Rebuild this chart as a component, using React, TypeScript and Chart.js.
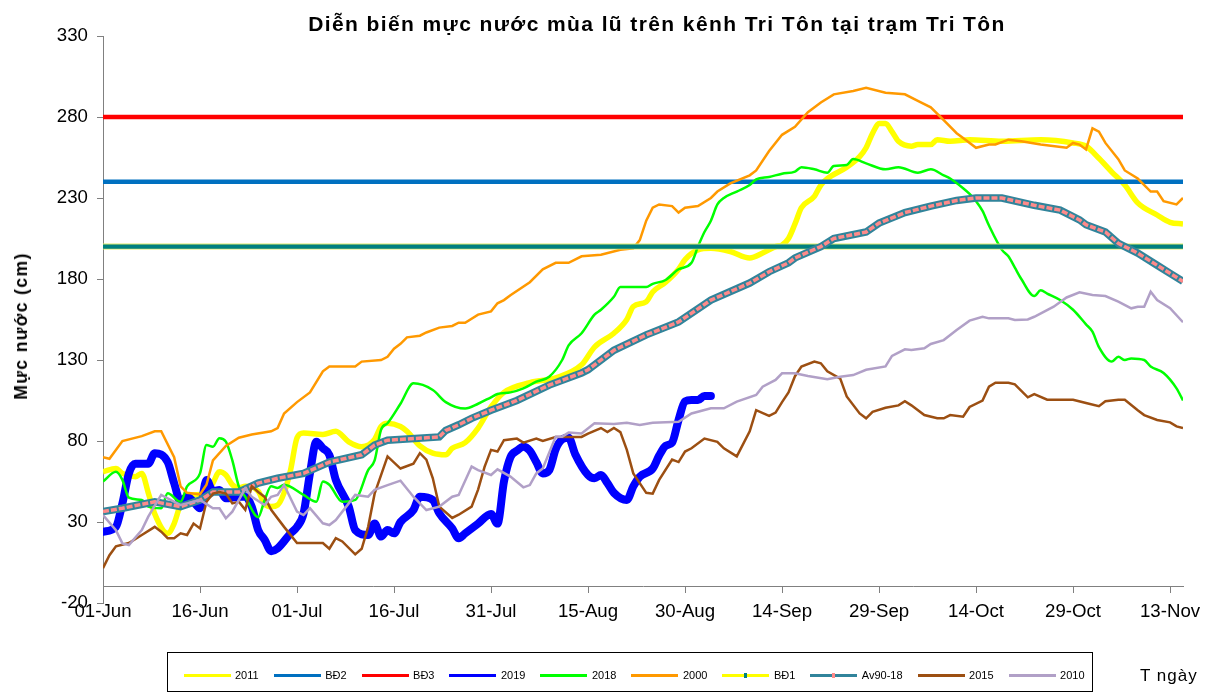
import React, { useEffect, useRef } from "react";
import { Chart, registerables } from "chart.js";

Chart.register(...registerables);

// ---------- data ----------
const xTickDays = [0, 15, 30, 45, 60, 75, 90, 105, 120, 135, 150, 165];
const xTickLabels = ["01-Jun", "16-Jun", "01-Jul", "16-Jul", "31-Jul", "15-Aug", "30-Aug", "14-Sep", "29-Sep", "14-Oct", "29-Oct", "13-Nov"];
const yTicks = [-20, 30, 80, 130, 180, 230, 280, 330];
const lastDay = 167; // 15-Nov
const xAxisCross = -10;

const levelBD1 = 200;
const levelBD2 = 240;
const levelBD3 = 280;

type Series = [number, number][]; // [day index from 01-Jun, water level cm]

const s2011: Series = [[0,61],[2,63],[3,60],[5,58],[6,60],[7,48],[8,35],[10,23],[11,29],[12,41],[13,46],[15,47],[16,48],[17,54],[18,61],[19,59],[20,53],[21,51],[22,52],[24,49],[25,41],[26,39.5],[27,40.5],[28,48],[29,62],[30,82],[31,85],[34,84],[36,86],[38,79.5],[40,76.5],[42,81],[43,89],[44,91],[46,89],[47,86],[49,77],[51,72.5],[53,71.5],[54,75.5],[56,79],[58,88],[60,101],[62,110],[66,116],[70,119],[74,127],[76,138],[79,146.5],[81,155],[82,163],[84,166],[85,172],[87,178],[89,186],[90,192],[92,198],[94,199],[97,197],[100,193],[102,196],[104,200],[105,201],[106,205],[107,214],[108,224],[110,231],[111,238],[112,242],[115,249],[117,255.5],[118,261],[119,270],[120,276],[121,276],[122,271],[123,265],[125,262],[126,263],[128,263],[129,266],[131,265],[134,266],[139,265],[145,266],[150,264],[152,262],[154,254.5],[156,246],[158,238],[160,227],[163,219.5],[165,215],[167,214]];

const s2019: Series = [[0,24],[2,27],[3,41.5],[4,60],[5,66],[7,66],[8,72.4],[10,67],[11,54],[12,42.5],[13,45.6],[14,42.5],[15,38.5],[16,56],[17,49],[18,49.8],[19,44.6],[21,45.6],[22,45.6],[23,39.5],[24,25],[25,19],[26,12],[27,13.7],[29,23],[30,27],[31,35],[32,60],[33,79.6],[34,75.5],[35,71.4],[36,56],[38,39.5],[39,25],[41,22],[42,29],[43,21],[44,25],[45,23],[46,30],[48,37.4],[49,45.6],[51,43.6],[52,35.4],[54,26],[55,20],[56,23],[58,29],[60,35],[61,29],[62,55],[63,70],[64,74],[65,76.5],[66,74],[67,67],[68,60],[69,62],[70,75],[71,81],[72,82],[73,72],[75,59],[76,57],[77,59],[78,54],[79,48],[81,43.6],[82,52],[83,58],[85,63],[86,71],[87,77],[88,79],[89,93],[90,104.5],[91,105.3],[92,105.3],[93,107.8],[94,107.8]];

const s2018: Series = [[0,55],[2,61],[3,56],[4,45],[6,43.6],[7,39.5],[9,38.5],[10,47.7],[12,42.5],[13,52],[15,60],[16,77.5],[17,76.5],[18,81.7],[19,79.6],[20,68],[21,52],[22,45.6],[24,33],[25,43.6],[26,52],[27,51],[28,53],[31,46.7],[33,42.5],[34,55],[35,53],[37,42.5],[39,43.6],[41,62],[42,68],[43,87],[44,91],[46,103],[48,115.6],[51,111.5],[53,104],[56,100],[58,103],[60,107],[61,109],[63,110],[65,112.5],[67,116.6],[69,119.7],[71,130],[72,139],[74,146.5],[76,158],[77,161],[79,169],[80,175],[84,175],[85,177],[87,179.4],[89,186],[91,190],[92,200],[93,209],[94,216],[95,226],[96,230],[98,234],[100,238],[101,241.5],[103,243],[105,245],[107,246.3],[108,249],[110,247.7],[112,245.6],[113,249.8],[115,250.4],[116,254],[118,251.4],[121,247.7],[123,249],[126,245.6],[128,247.7],[130,244],[131,242],[133,236],[134,232.5],[135,228],[136,222],[137,213],[139,198],[140,194],[141,187],[142,180],[144,169.5],[145,173],[146,171],[148,167],[150,161],[152,152],[153,147.5],[154,138],[156,129],[157,132],[158,130],[159,131],[161,130],[162,126],[164,122],[166,112.5],[167,105]];

const s2000: Series = [[0,70],[1,69],[3,80],[6,83],[8,86],[9,86],[11,70],[12,52],[13,48],[15,47],[16,53],[17,68],[19,77],[21,82],[23,84],[26,86],[27,88],[28,97],[30,104],[32,110],[34,123],[35,126],[39,126],[40,129],[43,130],[44,132],[45,137],[46,140],[47,144],[49,145],[50,147],[52,150],[54,151],[55,153],[56,153],[58,158],[60,160],[61,165],[62,167],[63,170],[66,178],[68,186],[70,190],[72,190],[74,194],[77,195],[80,198],[82,199],[83,204],[84,216],[85,224],[86,226],[88,225],[89,221],[90,224],[92,225],[94,230],[95,234],[97,239],[100,244],[101,247],[103,259],[105,269],[107,274],[109,283],[111,289],[113,294],[116,296],[118,298],[121,295],[124,294],[126,290],[128,286],[130,278],[132,270],[133,267],[135,261],[137,263],[138,263],[140,266],[142,265],[145,263],[149,261],[150,264],[151,263],[152,260],[153,273],[154,271],[155,264],[157,254],[158,247],[160,242],[162,234],[163,234],[164,228],[166,226],[167,230]];

const sAv9018: Series = [[0,36.5],[3,38.5],[8,42.5],[12,39.5],[15,43.5],[17,48.5],[21,48.5],[24,54],[27,57],[31,60],[35,67],[40,71.5],[42,77.5],[44,80.5],[52,82.5],[53,86.5],[55,90],[57,94],[60,99],[64,105],[69,114.5],[74,122],[75,124],[79,136],[84,145.5],[89,153.5],[94,167],[100,177.5],[103,184.5],[106,190],[107,193],[111,200],[113,205],[118,209],[120,214.5],[124,221],[128,225],[132,228.5],[135,230],[139,230],[144,225.5],[148,222.5],[151,216.5],[152,213.5],[155,209],[157,202],[160,196],[163,188.5],[165,183.5],[167,178.5]];

const s2015: Series = [[0,1.5],[1,9.5],[2,15],[4,17],[6,22],[8,27],[9,24],[10,20],[11,20],[12,23],[13,22],[14,29],[15,26],[16,42.5],[17,47.5],[18,48.5],[19,47.5],[20,41.5],[21,42.5],[22,37.5],[23,52],[24,48.5],[25,45.5],[26,37.5],[28,27],[30,17],[34,17],[35,13.5],[36,20],[37,18],[39,10],[40,13.5],[41,27],[42,47.5],[44,70.5],[46,63],[48,66],[49,72.5],[50,68.5],[51,57],[52,39.5],[54,32.5],[55,34.5],[57,39.5],[58,50],[59,64],[60,74.5],[61,73.5],[62,80.5],[64,81.5],[65,79],[67,81.5],[68,80],[70,82.5],[74,82.5],[75,84.5],[77,88],[78,85.5],[79,88],[80,85.5],[81,74.5],[82,60],[84,48],[85,47.5],[86,56],[88,68.5],[89,67],[90,73.5],[91,75.5],[93,81.5],[95,79.5],[96,75.5],[98,70.5],[100,86],[101,99],[103,95.5],[104,97.5],[105,104],[106,110],[107,120],[108,126],[110,129],[111,128],[112,123],[114,118.5],[115,107.5],[117,97],[118,94],[119,98],[121,100.5],[123,102],[124,104.5],[125,102],[127,96],[129,94],[130,94],[131,96],[133,95],[134,101],[136,105],[137,113.5],[138,116],[140,116],[141,115],[143,107],[144,109],[146,105.5],[150,105.5],[152,103.5],[154,101.5],[155,104.5],[157,105.5],[158,105.5],[160,99],[161,96],[163,93],[165,91.5],[166,89],[167,88]];

const s2010: Series = [[0,34.3],[2,25],[3,16.8],[4,15.8],[6,25],[7,33.3],[9,46.7],[10,44.6],[12,40.5],[13,41.5],[15,43.6],[17,38.5],[18,38.5],[19,32.3],[20,36.4],[22,50.8],[23,45.6],[25,40.5],[26,45.6],[27,46.7],[28,52.8],[30,36.4],[31,34.3],[32,38.5],[34,29.2],[35,28.1],[36,31.2],[38,41.5],[39,46.7],[41,45.6],[42,49.8],[44,52.8],[46,55.5],[48,45.6],[50,37.4],[52,39.5],[54,45.6],[55,46.7],[57,64.2],[58,62],[60,59],[61,62.5],[63,58],[65,51.4],[66,52.8],[67,60],[68,63],[70,82.7],[71,82.7],[72,85.2],[74,84.7],[76,90.9],[79,90.5],[81,91.3],[83,89.9],[85,91.3],[89,91.9],[91,97],[94,100.2],[96,100.2],[98,104.3],[101,108.4],[102,113.5],[104,117.7],[105,121.8],[107,121.8],[109,120.1],[112,118.1],[114,119.7],[116,120.7],[118,124],[121,126],[122,132.5],[124,136.6],[125,136.2],[127,137.2],[128,139.9],[130,142.3],[132,148.5],[134,154.3],[136,156.7],[137,155.7],[140,155.7],[141,154.7],[143,155],[144,156.7],[147,162.9],[149,168.6],[151,171.8],[153,170.1],[155,169.5],[157,166],[159,161.9],[160,162.9],[161,162.9],[162,172.2],[163,167],[165,162],[167,153.3]];

const legendNames = ["2011", "BĐ2", "BĐ3", "2019", "2018", "2000", "BĐ1", "Av90-18", "2015", "2010"];

// ---------- styles ----------
const FONT = "Arial, 'Liberation Sans', Helvetica, sans-serif";
const C_YELLOW = "#FFFF00";
const C_BD2 = "#0070C0";
const C_BD3 = "#FF0000";
const C_2019 = "#0000FF";
const C_2018 = "#00FF00";
const C_2000 = "#FF9900";
const C_BD1 = "#008080";
const C_BD1_EDGE = "#DDEB6A";
const C_AV = "#31849B";
const C_AV_IN = "#FF8A8A";
const C_2015 = "#9C4F12";
const C_2010 = "#B1A0C7";
const AXIS = "#808080";

const legendColors = [C_YELLOW, C_BD2, C_BD3, C_2019, C_2018, C_2000, C_YELLOW, C_AV, C_2015, C_2010];
const legendMarks: (string | null)[] = [null, null, null, null, null, null, C_BD1, C_AV_IN, null, null];

const W = 1214;
const H = 695;

export default function App() {
  const ref = useRef<HTMLCanvasElement>(null);

  useEffect(() => {
    if (!ref.current) return;
    const toXY = (s: Series) => s.map(([x, y]) => ({ x, y }));
    const flat = (v: number) => [{ x: 0, y: v }, { x: lastDay, y: v }];
    const line = (data: any[], color: string, width: number, extra: any = {}) => ({
      data,
      borderColor: color,
      backgroundColor: color,
      borderWidth: width,
      pointRadius: 0,
      pointHoverRadius: 0,
      fill: false,
      ...extra,
    });
    const smooth = { cubicInterpolationMode: "monotone" };
    // bottom -> top drawing order
    const layers: any[] = [
      line(toXY(s2011), C_YELLOW, 5.5, smooth),
      line(flat(levelBD2), C_BD2, 4.5),
      line(flat(levelBD3), C_BD3, 4.5),
      line(toXY(s2019), C_2019, 8, { ...smooth, borderCapStyle: "round", borderJoinStyle: "round" }),
      line(toXY(s2018), C_2018, 2.5, smooth),
      line(toXY(s2000), C_2000, 2.5),
      line(flat(levelBD1), C_BD1_EDGE, 6),
      line(flat(levelBD1), C_BD1, 4.2),
      line(toXY(sAv9018), C_AV, 7.5),
      line(toXY(sAv9018), C_AV_IN, 3.5, { borderDash: [6, 2] }),
      line(toXY(s2015), C_2015, 2.5),
      line(toXY(s2010), C_2010, 2.5),
    ];
    layers.forEach((d, i) => (d.order = layers.length - i));

    const tickFont = { family: FONT, size: 18.67 };
    const chart = new Chart(ref.current, {
      type: "line",
      data: { datasets: layers },
      options: {
        animation: false,
        responsive: false,
        events: [],
        layout: { padding: { top: 36, right: W - 1183, left: 0, bottom: H - 603 } },
        plugins: { legend: { display: false }, tooltip: { enabled: false }, title: { display: false } },
        scales: {
          x: {
            type: "linear",
            axis: "x",
            min: 0,
            max: lastDay,
            position: { y: xAxisCross },
            afterBuildTicks: (s: any) => {
              s.ticks = xTickDays.map((v) => ({ value: v }));
            },
            ticks: {
              autoSkip: false,
              maxRotation: 0,
              minRotation: 0,
              padding: 8,
              color: "#000",
              font: tickFont,
              callback: (v: any) => {
                const i = xTickDays.indexOf(Number(v));
                return i >= 0 ? xTickLabels[i] : "";
              },
            },
            grid: { drawOnChartArea: false, drawTicks: true, tickLength: 6, color: AXIS, lineWidth: 1 },
            border: { display: true, color: AXIS, width: 1 },
          },
          y: {
            type: "linear",
            min: yTicks[0],
            max: yTicks[yTicks.length - 1],
            afterBuildTicks: (s: any) => {
              s.ticks = yTicks.map((v) => ({ value: v }));
            },
            afterFit: (s: any) => {
              s.width = 103;
            },
            ticks: { padding: 9, color: "#000", font: tickFont, autoSkip: false },
            grid: { drawOnChartArea: false, drawTicks: true, tickLength: 6, color: AXIS, lineWidth: 1 },
            border: { display: true, color: AXIS, width: 1 },
          },
        },
      } as any,
    });
    return () => chart.destroy();
  }, []);

  return (
    <div style={{ position: "fixed", left: 0, top: 0, width: W, height: H, background: "#fff", fontFamily: FONT }}>
      <canvas ref={ref} width={W} height={H} style={{ position: "absolute", left: 0, top: 0, width: W, height: H }} />
      <div
        style={{
          position: "absolute",
          left: 657,
          top: 12.5,
          transform: "translateX(-50%)",
          whiteSpace: "nowrap",
          fontWeight: "bold",
          fontSize: 21,
          lineHeight: "21px",
          letterSpacing: 1.4,
          color: "#000",
        }}
      >
        Diễn biến mực nước mùa lũ trên kênh Tri Tôn tại trạm Tri Tôn
      </div>
      <div
        style={{
          position: "absolute",
          left: 21,
          top: 326,
          transform: "translate(-50%, -50%) rotate(-90deg)",
          whiteSpace: "nowrap",
          fontWeight: "bold",
          fontSize: 17.5,
          lineHeight: "18px",
          letterSpacing: 1.4,
          color: "#000",
        }}
      >
        Mực nước (cm)
      </div>
      <div
        style={{
          position: "absolute",
          left: 167,
          top: 652,
          width: 926,
          height: 40,
          boxSizing: "border-box",
          border: "1px solid #000",
        }}
      >
        <div style={{ position: "absolute", left: 15.5, top: 15, height: 14, display: "flex", alignItems: "center", whiteSpace: "nowrap" }}>
          {legendNames.map((name, i) => (
            <div key={name} style={{ display: "flex", alignItems: "center", marginRight: 15 }}>
              <div style={{ position: "relative", width: 47, height: 3, background: legendColors[i] }}>
                {legendMarks[i] && (
                  <div
                    style={{
                      position: "absolute",
                      left: 22,
                      top: -1,
                      width: 3,
                      height: 5,
                      background: legendMarks[i] as string,
                    }}
                  />
                )}
              </div>
              <span style={{ marginLeft: 4.5, fontSize: 11, lineHeight: "14px", color: "#000" }}>{name}</span>
            </div>
          ))}
        </div>
      </div>
      <div
        style={{
          position: "absolute",
          left: 1140,
          top: 667,
          fontSize: 17,
          lineHeight: "18px",
          letterSpacing: 1,
          whiteSpace: "nowrap",
          color: "#000",
        }}
      >
        T ngày
      </div>
    </div>
  );
}
